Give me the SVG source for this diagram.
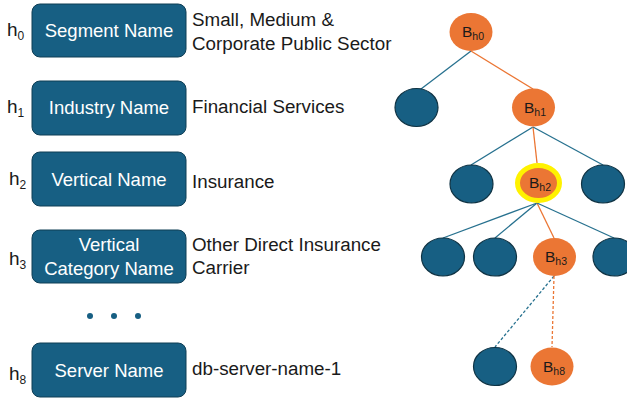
<svg xmlns="http://www.w3.org/2000/svg" width="627" height="399" viewBox="0 0 627 399">
<defs>
<style>
.box{fill:#175F83;stroke:#0F3E55;stroke-width:1}
.bt{font-family:"Liberation Sans",Arial,sans-serif;font-size:18.5px;fill:#ffffff;text-anchor:middle}
.rt{font-family:"Liberation Sans",Arial,sans-serif;font-size:18.8px;fill:#1a1a1a}
.h{font-family:"Liberation Sans",Arial,sans-serif;font-size:19px;fill:#1a1a1a}
.hs{font-size:12px}
.bn{fill:#175F83;stroke:#0F3344;stroke-width:1.2}
.on{fill:#EB7634}
.nt{font-family:"Liberation Sans",Arial,sans-serif;font-size:15.5px;fill:#1a1a1a;text-anchor:middle}
.ns{font-size:10.5px}
.lb{stroke:#27718F;stroke-width:1.3;fill:none}
.lo{stroke:#EB7634;stroke-width:1.3;fill:none}
.dash{stroke-dasharray:3,2}
.dot{fill:#175F83}
</style>
</defs>
<rect width="627" height="399" fill="#ffffff"/>

<g id="connectors">
<line class="lb" x1="471" y1="51" x2="421" y2="89"/>
<line class="lo" x1="471" y1="51" x2="533" y2="89"/>
<line class="lb" x1="533" y1="127" x2="471" y2="165"/>
<line class="lo" x1="533" y1="127" x2="537" y2="163"/>
<line class="lb" x1="533" y1="127" x2="603" y2="165"/>
<line class="lb" x1="537" y1="203" x2="443" y2="238"/>
<line class="lb" x1="537" y1="203" x2="495" y2="238"/>
<line class="lo" x1="537" y1="203" x2="554" y2="238"/>
<line class="lb" x1="537" y1="203" x2="614" y2="238"/>
<line class="lb dash" x1="554" y1="276" x2="495" y2="347"/>
<line class="lo dash" x1="554" y1="276" x2="552" y2="347"/>
</g>

<g id="level-h0">
<text class="h" x="7" y="36">h<tspan class="hs" dy="4">0</tspan></text>
<rect class="box" x="32" y="4" width="154" height="53" rx="8"/>
<text class="bt" x="109" y="37">Segment Name</text>
<text class="rt" x="192" y="26">Small, Medium &amp;</text>
<text class="rt" x="192" y="50">Corporate Public Sector</text>
</g>

<g id="level-h1">
<text class="h" x="7" y="113">h<tspan class="hs" dy="4">1</tspan></text>
<rect class="box" x="32" y="81" width="154" height="54" rx="8"/>
<text class="bt" x="109" y="114">Industry Name</text>
<text class="rt" x="192" y="113">Financial Services</text>
</g>

<g id="level-h2">
<text class="h" x="9" y="185">h<tspan class="hs" dy="4">2</tspan></text>
<rect class="box" x="32" y="152" width="154" height="54" rx="8"/>
<text class="bt" x="109" y="186">Vertical Name</text>
<text class="rt" x="192" y="188">Insurance</text>
</g>

<g id="level-h3">
<text class="h" x="9" y="265">h<tspan class="hs" dy="4">3</tspan></text>
<rect class="box" x="32" y="230" width="154" height="53" rx="8"/>
<text class="bt" x="109" y="251">Vertical</text>
<text class="bt" x="109" y="275">Category Name</text>
<text class="rt" x="192" y="251">Other Direct Insurance</text>
<text class="rt" x="192" y="274">Carrier</text>
</g>

<g id="ellipsis">
<circle class="dot" cx="90" cy="316" r="3"/>
<circle class="dot" cx="114" cy="316" r="3"/>
<circle class="dot" cx="138" cy="316" r="3"/>
</g>

<g id="level-h8">
<text class="h" x="9" y="380">h<tspan class="hs" dy="4">8</tspan></text>
<rect class="box" x="32" y="343" width="154" height="54" rx="8"/>
<text class="bt" x="109" y="377">Server Name</text>
<text class="rt" x="192" y="375">db-server-name-1</text>
</g>

<g id="node-bh0">
<ellipse class="on" cx="471" cy="32" rx="21.5" ry="19"/>
<text class="nt" x="473" y="37">B<tspan class="ns" dy="3">h0</tspan></text>
</g>
<g id="node-l1a"><ellipse class="bn" cx="416.5" cy="107.5" rx="21.5" ry="19"/></g>
<g id="node-bh1">
<ellipse class="on" cx="533.5" cy="107.5" rx="21.5" ry="19"/>
<text class="nt" x="535" y="113">B<tspan class="ns" dy="3">h1</tspan></text>
</g>
<g id="node-l2a"><ellipse class="bn" cx="471.5" cy="184" rx="21.5" ry="19"/></g>
<g id="node-bh2">
<ellipse cx="538.5" cy="183" rx="21" ry="17.5" fill="#EB7634" stroke="#FFF200" stroke-width="5"/>
<text class="nt" x="540" y="188">B<tspan class="ns" dy="3">h2</tspan></text>
</g>
<g id="node-l2c"><ellipse class="bn" cx="603" cy="184" rx="21.5" ry="19"/></g>
<g id="node-l3a"><ellipse class="bn" cx="443" cy="257" rx="21.5" ry="19"/></g>
<g id="node-l3b"><ellipse class="bn" cx="495" cy="257" rx="21.5" ry="19"/></g>
<g id="node-bh3">
<ellipse class="on" cx="554.5" cy="257" rx="21.5" ry="19"/>
<text class="nt" x="556" y="262">B<tspan class="ns" dy="3">h3</tspan></text>
</g>
<g id="node-l3d"><ellipse class="bn" cx="614.5" cy="257" rx="21.5" ry="19"/></g>
<g id="node-l4a"><ellipse class="bn" cx="495" cy="366.5" rx="21.5" ry="19"/></g>
<g id="node-bh8">
<ellipse class="on" cx="552" cy="366.5" rx="21.5" ry="19"/>
<text class="nt" x="554" y="372">B<tspan class="ns" dy="3">h8</tspan></text>
</g>
</svg>
